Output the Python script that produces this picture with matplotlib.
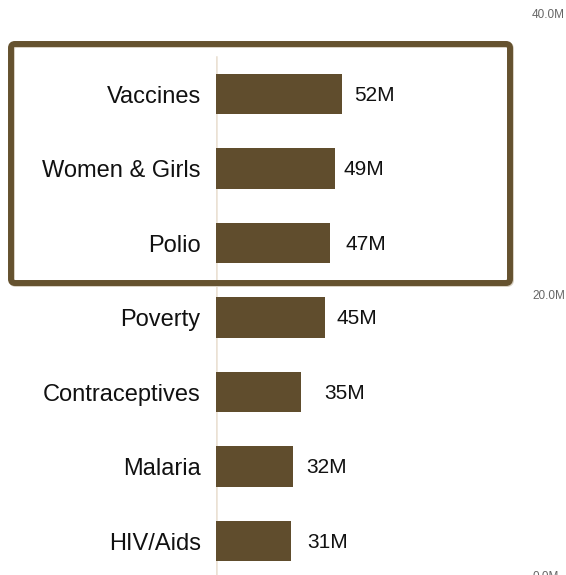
import matplotlib.pyplot as plt
from matplotlib.patches import FancyBboxPatch
from matplotlib.ticker import FuncFormatter
from matplotlib.transforms import IdentityTransform

plt.rcParams["font.family"] = ["Liberation Sans", "DejaVu Sans"]

categories = ["Vaccines", "Women & Girls", "Polio", "Poverty",
              "Contraceptives", "Malaria", "HIV/Aids"]
values = [52, 49, 47, 45, 35, 32, 31]
value_labels = ["52M", "49M", "47M", "45M", "35M", "32M", "31M"]
right_ticks = [0, 20, 40]

# label gap after each bar end, in pixels
label_gaps = [12, 9, 16, 12, 24, 13, 16]

BAR_COLOR = "#604d2d"
BOX_COLOR = "#65522f"


def main() -> None:
    fig = plt.figure(figsize=(5.66, 5.75), dpi=100)
    ax = fig.add_axes([216 / 566, 0, 312 / 566, 561 / 575])

    ypos = list(range(len(categories)))
    ax.barh(ypos, values, height=0.54, color=BAR_COLOR, zorder=2)

    ax.set_xlim(0, 312 / 2.42)
    ax.set_ylim(6.456, -1.074)

    ax.set_yticks(ypos)
    ax.set_yticklabels(categories, fontsize=17, color="#111111")
    ax.tick_params(axis="y", length=0, pad=11)
    ax.set_xticks([])
    for spine in ax.spines.values():
        spine.set_visible(False)

    ax.axvline(0, ymin=0, ymax=0.923, color="#ebe1d4", lw=1.8, zorder=1)

    for y, v, lab, gap in zip(ypos, values, value_labels, label_gaps):
        ax.annotate(lab, xy=(v, y), xytext=(gap * 0.72, -1),
                    textcoords="offset points", ha="left", va="center",
                    fontsize=15, color="#111111")

    ax2 = ax.twinx()
    ax2.set_ylim(0, 40)
    ax2.set_yticks(right_ticks)
    ax2.yaxis.set_major_formatter(FuncFormatter(lambda v, p: f"{v:.1f}M"))
    ax2.tick_params(axis="y", length=0, pad=3, labelsize=8.5, labelcolor="#666666")
    for spine in ax2.spines.values():
        spine.set_visible(False)

    # faint shadow, then the frame around the top three
    shadow = FancyBboxPatch((12, 575 - 284), 499, 239,
                            boxstyle="round,pad=0,rounding_size=4",
                            fill=False, edgecolor="#d9d2c4", linewidth=4.3,
                            transform=IdentityTransform(), zorder=4)
    box = FancyBboxPatch((11, 575 - 283), 499, 239,
                         boxstyle="round,pad=0,rounding_size=4",
                         fill=False, edgecolor=BOX_COLOR, linewidth=4.3,
                         transform=IdentityTransform(), zorder=5)
    fig.patches.append(shadow)
    fig.patches.append(box)

    fig.savefig("out.png", dpi=100)
    plt.close(fig)


if __name__ == "__main__":
    main()
